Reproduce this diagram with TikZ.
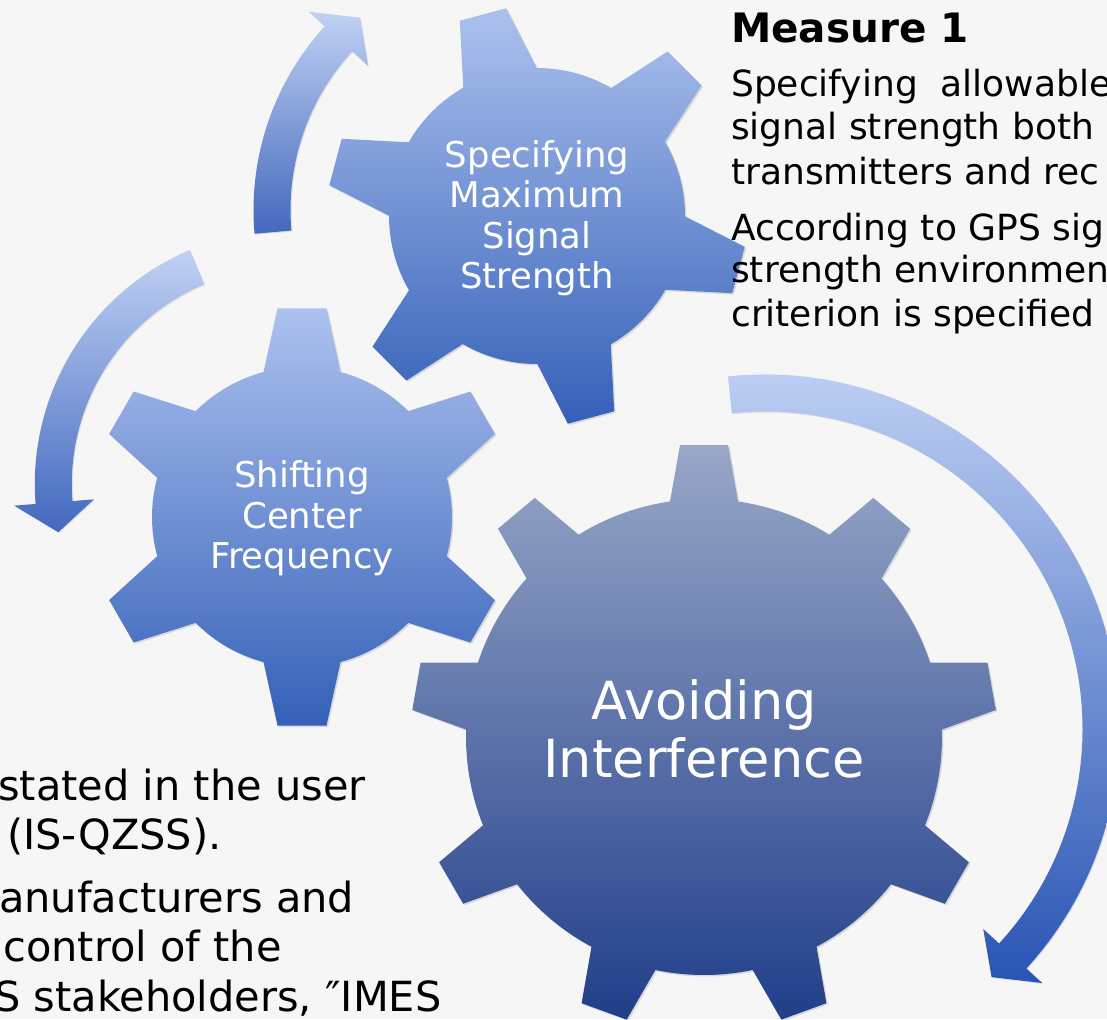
\documentclass[tikz,border=0pt]{standalone}
\usepackage{fontspec}
\setmainfont{DejaVu Sans}
\usetikzlibrary{shadows}

\definecolor{paper}{RGB}{246,246,246}
\definecolor{coglight}{RGB}{172,193,238}
\definecolor{cogdark}{RGB}{52,96,184}
\definecolor{biglight}{RGB}{152,167,200}
\definecolor{bigdark}{RGB}{33,62,138}
\definecolor{arrlight}{RGB}{192,209,244}
\definecolor{arrdark}{RGB}{66,104,190}
\definecolor{arrdeep}{RGB}{40,84,180}

% #1 style, #2 centre, #3 teeth, #4 angle of first tooth,
% #5 root radius, #6 tip radius, #7 half width at root, #8 half width at tip
\newcommand{\drawcog}[8]{%
  \pgfmathsetmacro{\cogstep}{360/#3}%
  \pgfmathsetmacro{\cogbase}{asin(#7/#5)}%
  \pgfmathsetmacro{\cogtip}{asin(#8/#6)}%
  \pgfmathtruncatemacro{\cogn}{#3-1}%
  \shade[#1, shift={#2}] ({#4-\cogbase}:#5)
    \foreach \k [evaluate=\k as \ang using #4+\k*\cogstep] in {0,...,\cogn} {
      -- ({\ang-\cogtip}:#6) -- ({\ang+\cogtip}:#6) -- ({\ang+\cogbase}:#5)
      arc[start angle=\ang+\cogbase, end angle=\ang+\cogstep-\cogbase, radius=#5]
    } -- cycle;
}

% #1 style, #2 centre, #3 radius, #4 start angle, #5 end angle, #6 head angle
\newcommand{\drawturn}[6]{%
  \shade[#1, shift={#2}] ({#4}:{#3+18.5}) arc[start angle=#4, end angle=#5, radius=#3+18.5]
    -- ({#5}:{#3+40}) -- ({#5+#6}:{#3}) -- ({#5}:{#3-40}) -- ({#5}:{#3-18.5})
    arc[start angle=#5, end angle=#4, radius=#3-18.5] -- cycle;
}

\begin{document}
\begin{tikzpicture}[x=1pt, y=1pt,
    body/.style={anchor=base west, inner sep=0pt, font=\fontsize{36}{43}\selectfont},
    note/.style={anchor=base west, inner sep=0pt, font=\fontsize{41.5}{50}\selectfont},
    cogtext/.style={text=white, align=center, inner sep=0pt, font=\fontsize{35.5}{40.5}\selectfont},
    smallcog/.style={top color=coglight, bottom color=cogdark,
      drop shadow={shadow xshift=1.5pt, shadow yshift=-1.5pt, opacity=0.25}},
    bigcog/.style={top color=biglight, bottom color=bigdark,
      drop shadow={shadow xshift=1.5pt, shadow yshift=-1.5pt, opacity=0.25}},
    turn/.style={top color=arrlight, bottom color=arrdark,
      drop shadow={shadow xshift=1pt, shadow yshift=-1pt, opacity=0.2}}]
	\useasboundingbox (0,0) rectangle (1107,-1019);
	\clip (0,0) rectangle (1107,-1019);
	\fill[paper] (0,0) rectangle (1107,-1019);

	% text lying behind the gears
	\node[note] (stated) at (-2,-800) {stated in the user};
	\node[note] (isqzss) at (7,-849) {(IS-QZSS).};
	\node[note] (makers) at (-1,-912) {anufacturers and};
	\node[note] (control) at (3,-961) {control of the};
	\node[note] (holders) at (-6,-1011) {S stakeholders, ″IMES};

	% arrows round the gears
	\drawturn{turn}{(526,-210)}{254}{185}{137.6}{-6.8}
	\drawturn{turn}{(289,-484)}{235.7}{113}{184.5}{7.3}
	\drawturn{turn, bottom color=arrdeep}{(765,-729)}{336}{96}{-42.5}{-5.1}

	% gears
	\drawcog{smallcog}{(537,-216)}{6}{105}{148}{210}{38}{24}
	\drawcog{smallcog}{(302,-517)}{6}{90}{150}{210}{38.5}{24.5}
	\drawcog{bigcog}{(704,-737)}{9}{90}{238}{293}{34}{24}

	\node[cogtext] (maxsig) at (537,-218) {Specifying\\Maximum\\Signal\\Strength};
	\node[cogtext] (shift) at (302,-518.5) {Shifting\\Center\\Frequency};
	\node[cogtext, font=\fontsize{52.5}{58}\selectfont] (avoid) at (704,-729) {Avoiding\\Interference};

	% measure 1
	\node[anchor=base west, inner sep=0pt, font=\fontsize{40.5}{43}\selectfont\bfseries] (measure) at (731,-43) {Measure 1};
	\node[body] (allow) at (731,-97) {Specifying\ \ allowable};
	\node[body] (both) at (731,-140) {signal strength both};
	\node[body] (trans) at (731,-184) {transmitters and rec};
	\node[body] (gps) at (731,-240) {According to GPS sig};
	\node[body] (env) at (731,-282) {strength environmen};
	\node[body] (crit) at (731,-326) {criterion is specified};
\end{tikzpicture}
\end{document}
